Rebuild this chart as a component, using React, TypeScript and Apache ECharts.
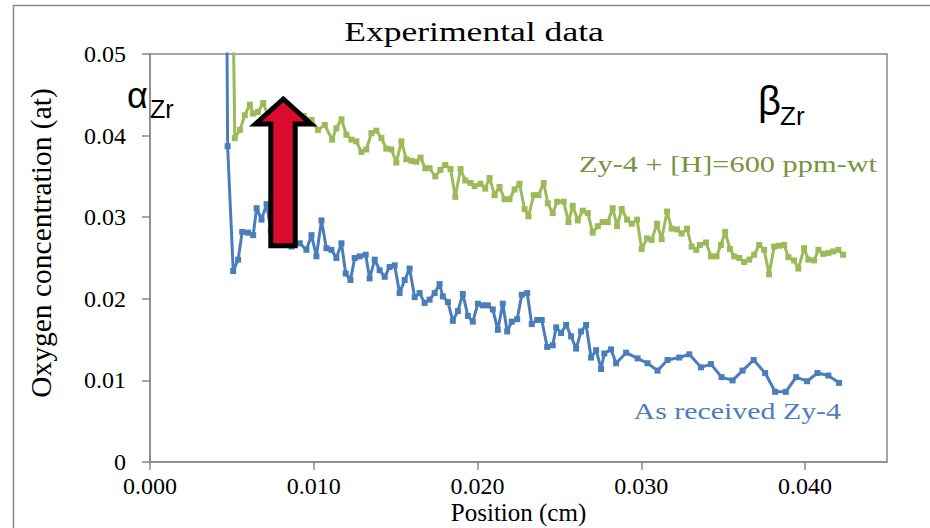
import React, { useEffect, useRef } from "react";
import * as echarts from "echarts";

// Position (cm), oxygen concentration (at) — as received Zy-4
const asReceived: [number, number][] = [
  [0.00463, 0.075], [0.00474, 0.0387], [0.00508, 0.0234], [0.00538, 0.0248], [0.00563, 0.0282],
  [0.00599, 0.0281], [0.0063, 0.0278], [0.00651, 0.0311], [0.00681, 0.0297], [0.00712, 0.0316],
  [0.00738, 0.0284], [0.00768, 0.0297], [0.00799, 0.0275], [0.00829, 0.0287],
  [0.00864, 0.0264], [0.00915, 0.0268], [0.00955, 0.026], [0.00986, 0.0278], [0.01016, 0.0252],
  [0.01047, 0.0296], [0.01077, 0.0262], [0.01108, 0.026], [0.01138, 0.025], [0.01169, 0.0268],
  [0.01195, 0.0231], [0.01224, 0.0223], [0.0125, 0.025], [0.0128, 0.0252], [0.01317, 0.0254],
  [0.01341, 0.0225], [0.01372, 0.0248], [0.01402, 0.0235], [0.01433, 0.0227], [0.01463, 0.0239],
  [0.01494, 0.0241], [0.01524, 0.0207], [0.01555, 0.0223], [0.01585, 0.0237], [0.01616, 0.0202],
  [0.01646, 0.0207], [0.01677, 0.0195], [0.01707, 0.0199], [0.01738, 0.0207], [0.01768, 0.0218],
  [0.01788, 0.0203], [0.01819, 0.0196], [0.01849, 0.0173], [0.0188, 0.0185], [0.0191, 0.0206],
  [0.01941, 0.0179], [0.01971, 0.0172], [0.02002, 0.0194], [0.02032, 0.0192], [0.02063, 0.0192],
  [0.02093, 0.0187], [0.02124, 0.0162], [0.02154, 0.0194], [0.02181, 0.016], [0.02209, 0.0172],
  [0.02242, 0.0175], [0.0227, 0.0205], [0.02303, 0.0207], [0.02331, 0.0169], [0.02364, 0.0174],
  [0.02392, 0.0174], [0.02425, 0.0141], [0.02459, 0.0143], [0.0248, 0.0165], [0.0251, 0.0158],
  [0.02541, 0.0168], [0.02571, 0.0154], [0.02602, 0.0139], [0.02632, 0.016], [0.02663, 0.0168],
  [0.02693, 0.0128], [0.02724, 0.0137], [0.02754, 0.0114], [0.02774, 0.0133], [0.02815, 0.0138],
  [0.02846, 0.0121], [0.02907, 0.0134], [0.02977, 0.0127], [0.03038, 0.0121], [0.03099, 0.0112],
  [0.0316, 0.0125], [0.03232, 0.0128], [0.03293, 0.0132], [0.03364, 0.0116], [0.03425, 0.012],
  [0.0349, 0.0104], [0.03557, 0.01], [0.03618, 0.0112], [0.03686, 0.0125], [0.03756, 0.0109],
  [0.03817, 0.0086], [0.03882, 0.0086], [0.03945, 0.0104], [0.04012, 0.0099], [0.04075, 0.0109],
  [0.04142, 0.0106], [0.04207, 0.0097],
];

// Position (cm), oxygen concentration (at) — Zy-4 + [H]=600 ppm-wt
const hydrided: [number, number][] = [
  [0.00497, 0.07], [0.00518, 0.0397], [0.00549, 0.0407], [0.00579, 0.0425], [0.0061, 0.0438],
  [0.0063, 0.0427], [0.00659, 0.0429], [0.00691, 0.044],
  [0.0072, 0.0425], [0.0075, 0.0432], [0.0078, 0.0421], [0.00811, 0.0436], [0.00841, 0.0418],
  [0.00872, 0.0423], [0.00902, 0.0417], [0.00939, 0.0424],
  [0.00986, 0.0419], [0.01026, 0.0407], [0.01067, 0.0413], [0.01112, 0.0395], [0.01138, 0.0409],
  [0.01169, 0.042], [0.01199, 0.0401], [0.0123, 0.0395], [0.0126, 0.0393], [0.01291, 0.038],
  [0.01321, 0.0383], [0.01352, 0.0403], [0.01382, 0.0406], [0.01413, 0.0397], [0.01443, 0.0384],
  [0.01474, 0.0383], [0.01504, 0.0367], [0.01535, 0.0393], [0.01565, 0.0371], [0.01596, 0.0369],
  [0.01626, 0.0368], [0.01652, 0.0373], [0.01681, 0.036], [0.01707, 0.036], [0.01742, 0.035],
  [0.01773, 0.0358], [0.01803, 0.0364], [0.01835, 0.0359], [0.01864, 0.0325], [0.01896, 0.0359],
  [0.01925, 0.0345], [0.01957, 0.0342], [0.01982, 0.0338], [0.02018, 0.0341], [0.02047, 0.0335],
  [0.02073, 0.0348], [0.02104, 0.0327], [0.02134, 0.0337], [0.02165, 0.0322], [0.02195, 0.0322],
  [0.02226, 0.0334], [0.02256, 0.0341], [0.02287, 0.031], [0.02311, 0.0301], [0.02343, 0.0327],
  [0.02372, 0.0327], [0.02404, 0.0342], [0.02429, 0.0317], [0.02459, 0.0305], [0.02486, 0.0319],
  [0.02526, 0.0319], [0.02555, 0.0294], [0.02581, 0.0314], [0.02612, 0.0296], [0.02642, 0.0308],
  [0.02673, 0.0305], [0.02703, 0.0281], [0.02734, 0.0289], [0.02764, 0.0294], [0.02795, 0.0294],
  [0.02825, 0.0311], [0.02852, 0.0289], [0.0288, 0.031], [0.02913, 0.0297], [0.02941, 0.0292],
  [0.02974, 0.0297], [0.03002, 0.0261], [0.03035, 0.0274], [0.03063, 0.0272], [0.03096, 0.0292],
  [0.03124, 0.0273], [0.03157, 0.0307], [0.03185, 0.0286], [0.03218, 0.0285], [0.03246, 0.028],
  [0.03279, 0.0286], [0.03307, 0.0264], [0.03335, 0.026], [0.03358, 0.0266], [0.03395, 0.0269],
  [0.03425, 0.0252], [0.03459, 0.0252], [0.03486, 0.0266], [0.03512, 0.0282], [0.03541, 0.0261],
  [0.03567, 0.0252], [0.03598, 0.025], [0.03628, 0.0245], [0.03659, 0.0248], [0.03689, 0.0254],
  [0.0372, 0.0266], [0.0375, 0.026], [0.0378, 0.023], [0.03811, 0.0264], [0.03841, 0.0265],
  [0.03872, 0.0266], [0.03898, 0.0251], [0.03933, 0.0247], [0.03959, 0.0237], [0.03994, 0.0262],
  [0.0402, 0.0248], [0.04055, 0.0247], [0.04081, 0.026], [0.0411, 0.0255], [0.04142, 0.0256],
  [0.04171, 0.0258], [0.04203, 0.026], [0.04232, 0.0254],
];

const xTicks = [0, 0.01, 0.02, 0.03, 0.04];
const yTicks = [0, 0.01, 0.02, 0.03, 0.04, 0.05];
const titleText = "Experimental data";
const xName = "Position (cm)";
const yName = "Oxygen concentration (at)";
const seriesNames = ["As received Zy-4", "Zy-4 + [H]=600 ppm-wt"];

const SERIF = "Liberation Serif";
const SANS = "Liberation Sans";
const GRAY = "#898989";
const BLUE = "#4A7EBB";
const GREEN = "#9BBB59";

function txt(
  text: string, x: number, y: number, size: number, family: string, color: string,
  align: string, scaleX = 1
) {
  return {
    type: "text", x, y, scaleX, z: 100,
    style: {
      text, x: 0, y: 0, fill: color, fontSize: size, fontFamily: family,
      align, textAlign: align, verticalAlign: "middle", textVerticalAlign: "middle",
    },
  };
}

export default function App() {
  const ref = useRef<HTMLDivElement>(null);
  useEffect(() => {
    const chart = echarts.init(ref.current!, null, { renderer: "svg" });
    chart.setOption({
      animation: false,
      backgroundColor: "#fff",
      grid: {
        left: 150, right: 43, top: 54, bottom: 66,
        outerBoundsMode: "none", containLabel: false,
        show: true, borderColor: GRAY, borderWidth: 1.5, backgroundColor: "transparent",
      },
      xAxis: {
        type: "value", min: 0, max: 0.045, interval: 0.01,
        name: xName, nameLocation: "middle", nameGap: 38, nameMoveOverlap: false,
        nameTextStyle: { fontFamily: SERIF, fontSize: 25, color: "#000", lineHeight: 25 },
        axisLine: { lineStyle: { color: GRAY, width: 1.5 } },
        axisTick: { show: true, length: 8, lineStyle: { color: GRAY, width: 1.5 }, customValues: xTicks },
        axisLabel: {
          customValues: xTicks,
          formatter: (v: number) => v.toFixed(3),
          fontFamily: SERIF, fontSize: 24, color: "#000", margin: 12, lineHeight: 24,
        },
        splitLine: { show: false },
      },
      yAxis: {
        type: "value", min: 0, max: 0.05, interval: 0.01,
        name: yName, nameLocation: "middle", nameGap: 94, nameMoveOverlap: false,
        nameTextStyle: { fontFamily: SERIF, fontSize: 29.5, color: "#000", padding: [0, 0, 0, 30] },
        axisLine: { show: true, lineStyle: { color: GRAY, width: 1.5 } },
        axisTick: { show: true, length: 8, lineStyle: { color: GRAY, width: 1.5 }, customValues: yTicks },
        axisLabel: {
          customValues: yTicks,
          formatter: (v: number) => (v === 0 ? "0" : v.toFixed(2)),
          fontFamily: SERIF, fontSize: 24, color: "#000", margin: 24,
        },
        splitLine: { show: false },
      },
      series: [
        {
          name: seriesNames[1], type: "line", data: hydrided,
          symbol: "rect", symbolSize: 6, showSymbol: true,
          lineStyle: { color: GREEN, width: 3 }, itemStyle: { color: GREEN },
          clip: true, z: 2,
        },
        {
          name: seriesNames[0], type: "line", data: asReceived,
          symbol: "rect", symbolSize: 6, showSymbol: true,
          lineStyle: { color: BLUE, width: 3 }, itemStyle: { color: BLUE },
          clip: true, z: 3,
        },
      ],
      graphic: [
        {
          type: "polyline", z: 100,
          shape: { points: [[13.5, 528], [13.5, 5.5], [930, 5.5]] },
          style: { stroke: GRAY, lineWidth: 1.5, fill: "none" },
        },
        txt(titleText, 474, 31.5, 28, SERIF, "#000", "center", 1.27),
        txt(seriesNames[1], 877, 164, 23, SERIF, "#77933C", "right", 1.32),
        txt(seriesNames[0], 841, 411, 23, SERIF, BLUE, "right", 1.3),
        txt("α", 127, 95.5, 36, SANS, "#000", "left"),
        txt("Zr", 150, 108.5, 25, SANS, "#000", "left"),
        txt("β", 758, 101, 40, SANS, "#000", "left"),
        txt("Zr", 780, 116, 26, SANS, "#000", "left"),
        {
          type: "polygon", z: 110,
          shape: {
            points: [[283.3, 99], [311, 124], [295.2, 124], [295.2, 245.8], [270.8, 245.8], [270.8, 124], [255.5, 124]],
          },
          style: { fill: "#DA0B2C", stroke: "#000", lineWidth: 5, lineJoin: "miter" },
        },
      ],
    });
    return () => chart.dispose();
  }, []);
  return <div ref={ref} style={{ position: "absolute", left: 0, top: 0, width: 930, height: 528 }} />;
}
